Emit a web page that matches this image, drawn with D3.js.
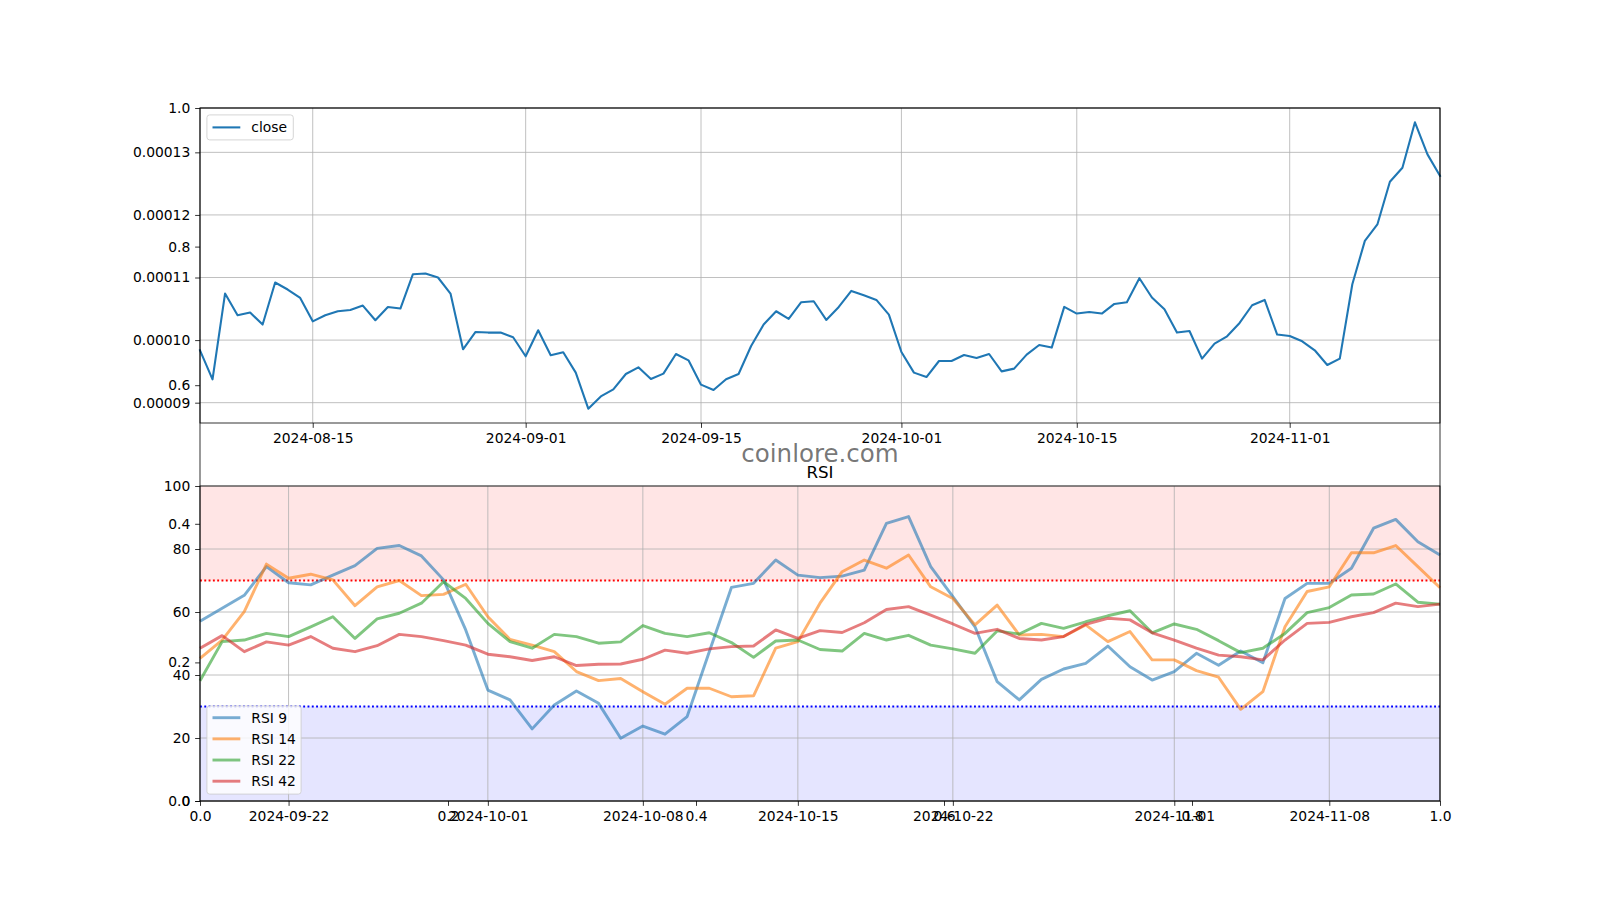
<!DOCTYPE html>
<html><head><meta charset="utf-8">
<script src="https://cdn.jsdelivr.net/npm/d3@7"></script>
<style>body{margin:0;background:#fff;} text{font-family:"DejaVu Sans",sans-serif;}</style>
</head><body><svg id="c" width="1600" height="900" xmlns="http://www.w3.org/2000/svg"></svg>
<script>
// ---------------- DATA ----------------
const closeStart = "2024-08-06";
const closeEnd = "2024-11-13";
const closeValues = [
  9.837e-5, 9.373e-5, 10.744e-5, 10.397e-5, 10.44e-5, 10.248e-5, 10.92e-5, 10.808e-5, 10.674e-5, 10.30e-5,
  10.397e-5, 10.461e-5, 10.482e-5, 10.552e-5, 10.317e-5, 10.53e-5, 10.504e-5, 11.053e-5, 11.064e-5, 11.00e-5,
  10.744e-5, 9.853e-5, 10.13e-5, 10.12e-5, 10.12e-5, 10.045e-5, 9.741e-5, 10.157e-5, 9.757e-5, 9.805e-5,
  9.48e-5, 8.904e-5, 9.10e-5, 9.213e-5, 9.458e-5, 9.565e-5, 9.378e-5, 9.464e-5, 9.778e-5, 9.677e-5,
  9.288e-5, 9.202e-5, 9.373e-5, 9.458e-5, 9.906e-5, 10.248e-5, 10.461e-5, 10.338e-5, 10.605e-5, 10.621e-5,
  10.322e-5, 10.53e-5, 10.786e-5, 10.717e-5, 10.642e-5, 10.408e-5, 9.81e-5, 9.48e-5, 9.41e-5, 9.666e-5,
  9.666e-5, 9.762e-5, 9.714e-5, 9.778e-5, 9.50e-5, 9.544e-5, 9.768e-5, 9.922e-5, 9.88e-5, 10.53e-5,
  10.424e-5, 10.45e-5, 10.424e-5, 10.578e-5, 10.605e-5, 10.989e-5, 10.68e-5, 10.493e-5, 10.12e-5, 10.146e-5,
  9.704e-5, 9.944e-5, 10.061e-5, 10.274e-5, 10.557e-5, 10.642e-5, 10.088e-5, 10.066e-5, 9.981e-5, 9.837e-5,
  9.602e-5, 9.704e-5, 10.893e-5, 11.586e-5, 11.848e-5, 12.53e-5, 12.754e-5, 13.48e-5, 12.968e-5, 12.626e-5
];
const rsiStart = "2024-09-18";
const rsiEnd = "2024-11-13";
const rsi9 = [57.1, 61.2, 65.3, 74.4, 69.3, 68.6, 71.7, 74.7, 80.2, 81.1, 77.8, 70.2, 54.3, 35.2, 32.1, 22.9, 30.5, 34.9, 31.0, 19.9, 23.8, 21.2, 26.8, 47.4, 67.8, 69.1, 76.5, 71.7, 70.9, 71.4, 73.3, 88.1, 90.3, 74.4, 64.9, 55.3, 37.9, 32.1, 38.6, 41.9, 43.7, 49.2, 42.6, 38.4, 41.1, 46.9, 43.1, 47.6, 43.9, 64.3, 69.1, 69.1, 73.9, 86.6, 89.4, 82.3, 78.1];
const rsi14 = [45.3, 51.1, 60.1, 75.2, 70.7, 72.0, 70.2, 62.0, 68.0, 70.0, 65.2, 65.6, 68.8, 58.5, 51.3, 49.5, 47.4, 41.1, 38.2, 38.9, 34.7, 30.7, 35.8, 35.8, 33.1, 33.4, 48.5, 50.6, 62.8, 72.8, 76.5, 73.9, 78.1, 68.0, 64.3, 55.9, 62.2, 52.7, 52.9, 52.2, 55.9, 50.6, 53.8, 44.8, 44.8, 41.4, 39.3, 29.1, 34.7, 55.3, 66.5, 68.0, 78.8, 78.8, 81.1, 74.4, 67.7];
const rsi22 = [38.2, 50.6, 51.1, 53.2, 52.2, 55.3, 58.5, 51.6, 57.8, 59.6, 62.8, 69.6, 64.3, 56.4, 50.6, 48.5, 52.9, 52.2, 50.1, 50.5, 55.7, 53.2, 52.2, 53.4, 50.3, 45.6, 50.8, 51.1, 48.1, 47.6, 53.2, 51.1, 52.6, 49.5, 48.3, 46.9, 54.0, 53.0, 56.4, 54.8, 56.9, 58.8, 60.4, 53.4, 56.2, 54.5, 50.9, 47.1, 48.5, 53.2, 59.8, 61.4, 65.4, 65.7, 68.9, 63.1, 62.5];
const rsi42 = [48.5, 52.5, 47.4, 50.5, 49.5, 52.2, 48.5, 47.4, 49.3, 52.9, 52.2, 50.9, 49.5, 46.6, 45.8, 44.6, 45.8, 43.0, 43.4, 43.5, 45.0, 47.9, 46.9, 48.3, 49.0, 49.2, 54.3, 51.6, 54.1, 53.5, 56.6, 60.8, 61.7, 59.0, 56.2, 53.2, 54.5, 51.6, 51.1, 52.2, 56.1, 58.0, 57.5, 53.4, 51.1, 48.5, 46.3, 45.8, 44.8, 51.1, 56.4, 56.7, 58.5, 59.8, 62.8, 61.7, 62.5];
const rsiNames = ["RSI 9", "RSI 14", "RSI 22", "RSI 42"];
const rsiColors = ["#1f77b4", "#ff7f0e", "#2ca02c", "#d62728"];
const overbought = 70, oversold = 30;

const priceTicks = [0.00009, 0.00010, 0.00011, 0.00012, 0.00013];
const topDateTicks = ["2024-08-15", "2024-09-01", "2024-09-15", "2024-10-01", "2024-10-15", "2024-11-01"];
const rsiTicks = [0, 20, 40, 60, 80, 100];
const rsiDateTicks = ["2024-09-22", "2024-10-01", "2024-10-08", "2024-10-15", "2024-10-22", "2024-11-01", "2024-11-08"];
const overlayTicks = [0, 0.2, 0.4, 0.6, 0.8, 1.0];

// ---------------- LAYOUT ----------------
const FS = 13.89, TICK = 4.86, PAD = 4.86;
const L = 200, R = 1440;
const topY0 = 108, topY1 = 423, botY0 = 486, botY1 = 801;
const parse = d3.utcParse("%Y-%m-%d");
const svg = d3.select("#c");
svg.append("rect").attr("width", 1600).attr("height", 900).attr("fill", "#fff");

const closeDates = d3.utcDay.range(parse(closeStart), d3.utcDay.offset(parse(closeEnd), 1));
const rsiDates = d3.utcDay.range(parse(rsiStart), d3.utcDay.offset(parse(rsiEnd), 1));

function styleAxis(g) {
  g.select(".domain").remove();
  g.attr("font-family", null).attr("font-size", null);
  g.selectAll(".tick line").attr("stroke", "#000").attr("stroke-width", 0.8);
  g.selectAll(".tick text").attr("fill", "#000").style("font-size", FS + "px").style("font-family", "DejaVu Sans");
}

// ---------------- TOP: close price ----------------
const xTop = d3.scaleUtc().domain([closeDates[0], closeDates[closeDates.length - 1]]).range([L, R]);
const [pMin, pMax] = d3.extent(closeValues);
const pm = (pMax - pMin) * 0.05;
const yTop = d3.scaleLinear().domain([pMin - pm, pMax + pm]).range([topY1, topY0]);

const gTop = svg.append("g");
gTop.append("g").selectAll("line").data(topDateTicks).join("line")
  .attr("x1", d => xTop(parse(d))).attr("x2", d => xTop(parse(d)))
  .attr("y1", topY0).attr("y2", topY1).attr("stroke", "#b0b0b0").attr("stroke-width", 0.8);
gTop.append("g").selectAll("line").data(priceTicks).join("line")
  .attr("x1", L).attr("x2", R).attr("y1", d => yTop(d)).attr("y2", d => yTop(d))
  .attr("stroke", "#b0b0b0").attr("stroke-width", 0.8);
gTop.append("path").datum(closeValues)
  .attr("fill", "none").attr("stroke", "#1f77b4").attr("stroke-width", 2.08)
  .attr("stroke-linejoin", "round").attr("stroke-linecap", "square")
  .attr("d", d3.line().x((d, i) => xTop(closeDates[i])).y(d => yTop(d)));
gTop.append("g").attr("transform", `translate(${L},0)`)
  .call(d3.axisLeft(yTop).tickValues(priceTicks).tickFormat(d3.format(".5f")).tickSize(TICK).tickPadding(PAD))
  .call(styleAxis);
gTop.append("g").attr("transform", `translate(0,${topY1})`)
  .call(d3.axisBottom(xTop).tickValues(topDateTicks.map(parse)).tickFormat(d3.utcFormat("%Y-%m-%d")).tickSize(TICK).tickPadding(PAD))
  .call(styleAxis);
gTop.append("rect").attr("x", L).attr("y", topY0).attr("width", R - L).attr("height", topY1 - topY0)
  .attr("fill", "none").attr("stroke", "#000").attr("stroke-width", 0.8);
const lgT = gTop.append("g");
lgT.append("rect").attr("x", 206.9).attr("y", 114.9).attr("width", 86.4).attr("height", 25)
  .attr("rx", 2.8).attr("fill", "rgba(255,255,255,0.8)").attr("stroke", "#cccccc").attr("stroke-width", 0.8);
lgT.append("line").attr("x1", 212.5).attr("x2", 240.3).attr("y1", 127.4).attr("y2", 127.4)
  .attr("stroke", "#1f77b4").attr("stroke-width", 2.08);
lgT.append("text").attr("x", 251.3).attr("y", 127.4).attr("dy", "0.35em").style("font-size", FS + "px").text("close");

// ---------------- BOTTOM: RSI ----------------
const xBot = d3.scaleUtc().domain([rsiDates[0], rsiDates[rsiDates.length - 1]]).range([L, R]);
const yBot = d3.scaleLinear().domain([0, 100]).range([botY1, botY0]);
const gBot = svg.append("g");
gBot.append("rect").attr("x", L).attr("width", R - L)
  .attr("y", yBot(100)).attr("height", yBot(overbought) - yBot(100)).attr("fill", "rgba(255,0,0,0.1)");
gBot.append("rect").attr("x", L).attr("width", R - L)
  .attr("y", yBot(oversold)).attr("height", yBot(0) - yBot(oversold)).attr("fill", "rgba(0,0,255,0.1)");
gBot.append("g").selectAll("line").data(rsiDateTicks).join("line")
  .attr("x1", d => xBot(parse(d))).attr("x2", d => xBot(parse(d)))
  .attr("y1", botY0).attr("y2", botY1).attr("stroke", "#b0b0b0").attr("stroke-width", 0.8);
gBot.append("g").selectAll("line").data(rsiTicks).join("line")
  .attr("x1", L).attr("x2", R).attr("y1", d => yBot(d)).attr("y2", d => yBot(d))
  .attr("stroke", "#b0b0b0").attr("stroke-width", 0.8);
gBot.append("line").attr("x1", L).attr("x2", R).attr("y1", yBot(overbought)).attr("y2", yBot(overbought))
  .attr("stroke", "#ff0000").attr("stroke-width", 1.9).attr("stroke-dasharray", "1.9,2.4");
gBot.append("line").attr("x1", L).attr("x2", R).attr("y1", yBot(oversold)).attr("y2", yBot(oversold))
  .attr("stroke", "#0000ff").attr("stroke-width", 1.9).attr("stroke-dasharray", "1.9,2.4");
const rsiAll = [rsi9, rsi14, rsi22, rsi42];
const rsiLine = d3.line().x((d, i) => xBot(rsiDates[i])).y(d => yBot(d));
rsiAll.forEach((vals, k) => {
  gBot.append("path").datum(vals).attr("fill", "none").attr("stroke", rsiColors[k])
    .attr("stroke-opacity", 0.6).attr("stroke-width", 2.9).attr("stroke-linejoin", "round")
    .attr("d", rsiLine);
});
gBot.append("g").attr("transform", `translate(${L},0)`)
  .call(d3.axisLeft(yBot).tickValues(rsiTicks).tickFormat(d3.format("d")).tickSize(TICK).tickPadding(PAD))
  .call(styleAxis);
gBot.append("g").attr("transform", `translate(0,${botY1})`)
  .call(d3.axisBottom(xBot).tickValues(rsiDateTicks.map(parse)).tickFormat(d3.utcFormat("%Y-%m-%d")).tickSize(TICK).tickPadding(PAD))
  .call(styleAxis);
gBot.append("rect").attr("x", L).attr("y", botY0).attr("width", R - L).attr("height", botY1 - botY0)
  .attr("fill", "none").attr("stroke", "#000").attr("stroke-width", 0.8);
svg.append("text").attr("x", (L + R) / 2).attr("y", 477.7).attr("text-anchor", "middle")
  .style("font-size", "16.67px").text("RSI");
const lgB = gBot.append("g");
lgB.append("rect").attr("x", 206.9).attr("y", 706).attr("width", 94.2).attr("height", 88.1)
  .attr("rx", 2.8).attr("fill", "rgba(255,255,255,0.8)").attr("stroke", "#cccccc").attr("stroke-width", 0.8);
const rowY = d3.scaleLinear().domain([0, 3]).range([717.7, 781.2]);
rsiNames.forEach((n, k) => {
  lgB.append("line").attr("x1", 212.5).attr("x2", 240.3).attr("y1", rowY(k)).attr("y2", rowY(k))
    .attr("stroke", rsiColors[k]).attr("stroke-opacity", 0.6).attr("stroke-width", 2.9);
  lgB.append("text").attr("x", 251.3).attr("y", rowY(k)).attr("dy", "0.35em").style("font-size", FS + "px").text(n);
});

// ---------------- OVERLAY 0..1 axes ----------------
const xOv = d3.scaleLinear().domain([0, 1]).range([L, R]);
const yOv = d3.scaleLinear().domain([0, 1]).range([botY1, topY0]);
const gOv = svg.append("g");
gOv.append("g").attr("transform", `translate(${L},0)`)
  .call(d3.axisLeft(yOv).tickValues(overlayTicks).tickFormat(d3.format(".1f")).tickSize(TICK).tickPadding(PAD))
  .call(styleAxis);
gOv.append("g").attr("transform", `translate(0,${botY1})`)
  .call(d3.axisBottom(xOv).tickValues(overlayTicks).tickFormat(d3.format(".1f")).tickSize(TICK).tickPadding(PAD))
  .call(styleAxis);
gOv.append("rect").attr("x", L).attr("y", topY0).attr("width", R - L).attr("height", botY1 - topY0)
  .attr("fill", "none").attr("stroke", "#000").attr("stroke-width", 0.8);

svg.append("text").attr("x", 820).attr("y", 462).attr("text-anchor", "middle")
  .attr("fill", "#707070").attr("fill-opacity", 0.95).style("font-size", "24.5px").text("coinlore.com");
</script></body></html>
